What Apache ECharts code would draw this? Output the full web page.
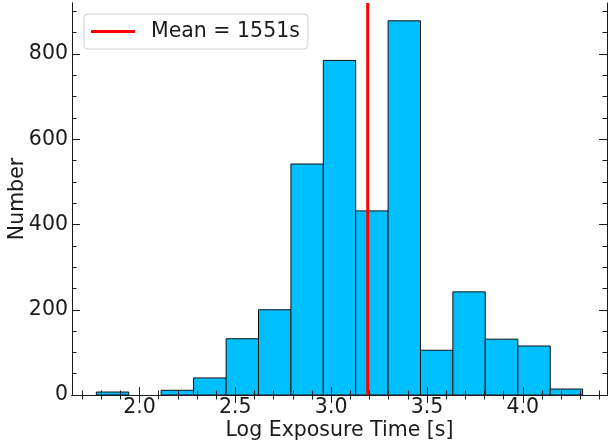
<!DOCTYPE html>
<html>
<head>
<meta charset="utf-8">
<script src="https://cdn.jsdelivr.net/npm/echarts@6/dist/echarts.min.js"></script>
<style>
  html, body { margin: 0; padding: 0; background: #fff; }
  #chart { width: 608px; height: 445px; }
</style>
</head>
<body>
<div id="chart"></div>
<script>
// histogram of log10 exposure times
const binEdges = [1.775, 1.944, 2.113, 2.282, 2.452, 2.621, 2.790, 2.959, 3.128,
                  3.297, 3.466, 3.635, 3.804, 3.974, 4.143, 4.312];
const counts = [7, 0, 11, 40, 132, 200, 542, 785, 432, 878, 105, 242, 131, 115, 14];
const meanSeconds = 1551;
const meanLog = Math.log10(meanSeconds);

const xMajor = [2.0, 2.5, 3.0, 3.5, 4.0];
const yMajor = [0, 200, 400, 600, 800];

const xMin = 1.648, xMax = 4.439;
const yMin = 0, yMax = 919.8;

// minor ticks: 0.1 on x, 50 on y
const xMinor = [];
for (let i = 17; i <= 44; i++) if (i % 5 !== 0) xMinor.push(i / 10);
const yMinor = [];
for (let v = 50; v <= 900; v += 50) if (v % 200 !== 0) yMinor.push(v);

const FONT = 'DejaVu Sans';
const FS = 20.5;
const INK = '#1a1a1a';

function xAxis(position, values, len, withLabels) {
    return {
        type: 'value', position: position, min: xMin, max: xMax, z: 10,
        axisLine: { show: withLabels !== null, lineStyle: { color: INK, width: 1 } },
        axisTick: { show: true, inside: true, length: len, customValues: values,
                    lineStyle: { color: INK, width: 1 } },
        axisLabel: withLabels ? {
            show: true, customValues: values, margin: 2,
            color: INK, fontFamily: FONT, fontSize: FS,
            formatter: v => v.toFixed(1)
        } : { show: false },
        splitLine: { show: false },
        name: withLabels ? 'Log Exposure Time [s]' : '',
        nameLocation: 'middle', nameGap: 25, nameMoveOverlap: false,
        nameTextStyle: { color: INK, fontFamily: FONT, fontSize: FS }
    };
}

function yAxis(position, values, len, withLabels) {
    return {
        type: 'value', position: position, min: yMin, max: yMax, z: 10,
        axisLine: { show: withLabels !== null, lineStyle: { color: INK, width: 1 } },
        axisTick: { show: true, inside: true, length: len, customValues: values,
                    lineStyle: { color: INK, width: 1 } },
        axisLabel: withLabels ? {
            show: true, customValues: values, margin: 4,
            color: INK, fontFamily: FONT, fontSize: FS
        } : { show: false },
        splitLine: { show: false },
        name: withLabels ? 'Number' : '',
        nameLocation: 'middle', nameGap: 44, nameMoveOverlap: false,
        nameTextStyle: { color: INK, fontFamily: FONT, fontSize: FS }
    };
}

const chart = echarts.init(document.getElementById('chart'), null, { renderer: 'canvas' });

chart.setOption({
    animation: false,
    backgroundColor: '#fff',
    grid: { left: 72, right: 1, top: 3, bottom: 50, containLabel: false, outerBoundsMode: 'none' },
    legend: {
        left: 84, top: 14,
        orient: 'vertical',
        padding: [7, 8, 7, 7],
        borderColor: '#d0d0d0', borderWidth: 1, borderRadius: 4,
        backgroundColor: 'rgba(255,255,255,0.8)',
        itemWidth: 44, itemHeight: 3,
        data: [{ name: 'Mean = ' + meanSeconds + 's', icon: 'rect' }],
        textStyle: { color: INK, fontFamily: FONT, fontSize: FS, padding: [0, 0, 0, 11] }
    },
    xAxis: [
        xAxis('bottom', xMajor, 8, true),
        xAxis('bottom', xMinor, 4.5, false),
        xAxis('top', xMajor, 8, false),
        xAxis('top', xMinor, 4.5, null)
    ],
    yAxis: [
        yAxis('left', yMajor, 8, true),
        yAxis('left', yMinor, 4.5, false),
        yAxis('right', yMajor, 8, false),
        yAxis('right', yMinor, 4.5, null)
    ],
    series: [
        {
            type: 'custom',
            xAxisIndex: 0, yAxisIndex: 0,
            z: 2,
            data: counts.map((c, i) => [binEdges[i], binEdges[i + 1], c]),
            renderItem: function (params, api) {
                if (api.value(2) <= 0) return null;
                const p0 = api.coord([api.value(0), api.value(2)]);
                const p1 = api.coord([api.value(1), 0]);
                return {
                    type: 'rect',
                    shape: { x: p0[0], y: p0[1], width: p1[0] - p0[0], height: p1[1] - p0[1] },
                    style: { fill: '#00BFFF', stroke: '#111', lineWidth: 1 }
                };
            }
        },
        {
            name: 'Mean = ' + meanSeconds + 's',
            type: 'line',
            xAxisIndex: 0, yAxisIndex: 0,
            z: 5,
            showSymbol: false,
            symbol: 'none',
            color: '#ff0000',
            lineStyle: { color: '#ff0000', width: 3 },
            data: [[meanLog, yMin], [meanLog, yMax]]
        }
    ]
});
</script>
</body>
</html>
